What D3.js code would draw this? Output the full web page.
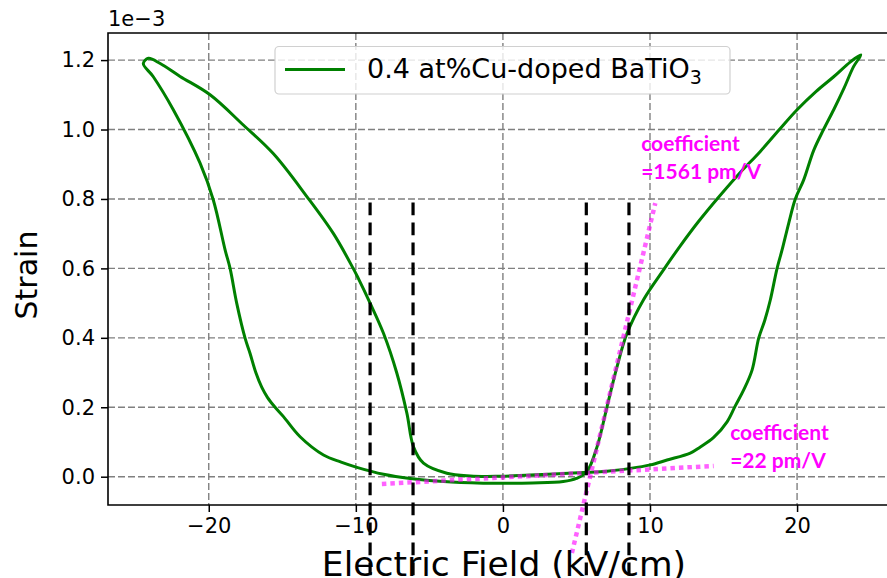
<!DOCTYPE html>
<html>
<head>
<meta charset="utf-8">
<script src="https://cdn.jsdelivr.net/npm/d3@7"></script>
<style>
  body { margin: 0; background: #fff; }
  svg { display: block; font-family: "DejaVu Sans", sans-serif; }
</style>
</head>
<body>
<svg id="chart" width="887" height="578"></svg>
<script>
// strain loop (units of 1e-3) vs electric field (kV/cm), in measuring order
var loopE = [0.0, 2.0, 4.1, 5.0, 5.7, 6.4, 7.07, 7.76, 8.44, 9.56, 10.92, 12.06, 13.3, 14.56, 16.0, 17.5, 18.8, 20.0, 21.3, 22.49, 23.63, 24.33,
  23.84, 23.2, 22.49, 21.8, 21.13, 20.45, 19.88, 19.43, 18.98, 18.64, 18.18, 17.8, 17.39, 16.94, 16.37, 15.8, 15.24, 14.33, 13.4, 12.74, 11.16, 10.02, 8.66, 6.62, 5.48, 1.86, -0.5, -2.22, -3.81, -5.4, -6.08, -6.53, -7.21, -8.12, -9.03, -9.84, -10.18, -11.52, -13.33, -15.6, -17.65, -19.91, -21.95, -23.3, -24.1, -24.45,
  -23.77, -22.41, -20.59, -19.69, -18.88, -18.55, -18.1, -17.53, -17.19, -16.8, -16.4, -16.0, -15.49, -14.92, -13.79, -12.2, -11.0, -9.93, -8.12, -6.31, -3.5, -0.41];
var loopS = [-0.019, -0.018, -0.014, -0.005, 0.014, 0.086, 0.20, 0.317, 0.413, 0.51, 0.596, 0.665, 0.735, 0.80, 0.87, 0.937, 1.0, 1.057, 1.11, 1.152, 1.195, 1.215,
  1.181, 1.12, 1.057, 1.0, 0.94, 0.855, 0.80, 0.73, 0.653, 0.60, 0.509, 0.45, 0.399, 0.307, 0.25, 0.204, 0.158, 0.113, 0.085, 0.068, 0.048, 0.034, 0.024, 0.014, 0.012, 0.005, 0.001, 0.002, 0.010, 0.039, 0.086, 0.183, 0.298, 0.413, 0.50, 0.572, 0.60, 0.70, 0.807, 0.93, 1.013, 1.10, 1.153, 1.19, 1.205, 1.19,
  1.152, 1.057, 0.903, 0.797, 0.652, 0.60, 0.50, 0.399, 0.355, 0.30, 0.258, 0.228, 0.20, 0.173, 0.115, 0.0625, 0.042, 0.027, 0.007, -0.005, -0.015, -0.019];

// coercive-field markers
var markE = [-9.03, -6.11, 5.67, 8.57];
var markS = [0.79, -0.3];

// linear fits [E0, S0, E1, S1]
var fitSteep = [4.69, -0.22, 10.36, 0.788];
var fitFlat = [-8.23, -0.021, 14.33, 0.031];

var xTicks = [-20, -10, 0, 10, 20];
var yTicks = [0.0, 0.2, 0.4, 0.6, 0.8, 1.0, 1.2];

var seriesName = "0.4 at%Cu-doped BaTiO";
var seriesSub = "3";
var notes = [
  { lines: ["coefficient", "=1561 pm/V"], E: 9.4, S: 0.938 },
  { lines: ["coefficient", "=22 pm/V"], E: 15.45, S: 0.106 }
];

var svg = d3.select("#chart");
var padL = 108, padR = 889, padT = 33, padB = 505;

var x = d3.scaleLinear().domain([-26.85, 26.25]).range([padL, padR]);
var y = d3.scaleLinear().domain([-0.0815, 1.278]).range([padB, padT]);

// grid
var grid = svg.append("g").attr("class", "grid");
grid.selectAll("line.gx").data(xTicks).enter().append("line")
    .attr("x1", function (d) { return x(d); }).attr("x2", function (d) { return x(d); })
    .attr("y1", padT).attr("y2", padB);
grid.selectAll("line.gy").data(yTicks).enter().append("line")
    .attr("x1", padL).attr("x2", padR)
    .attr("y1", function (d) { return y(d); }).attr("y2", function (d) { return y(d); });
grid.selectAll("line")
    .attr("stroke", "#808080").attr("stroke-width", 1.4).attr("stroke-dasharray", "7,3");

// strain loop
var pts = loopE.map(function (e, i) { return [e, loopS[i]]; });
pts.push(pts[0]);
var line = d3.line()
    .x(function (d) { return x(d[0]); })
    .y(function (d) { return y(d[1]); })
    .curve(d3.curveCatmullRom.alpha(0.5));

svg.append("path")
    .datum(pts)
    .attr("d", line)
    .attr("fill", "none")
    .attr("stroke", "#008000")
    .attr("stroke-width", 3)
    .attr("stroke-linejoin", "round");

// fit lines
[fitSteep, fitFlat].forEach(function (f) {
    svg.append("line")
        .attr("x1", x(f[0])).attr("y1", y(f[1]))
        .attr("x2", x(f[2])).attr("y2", y(f[3]))
        .attr("stroke", "#ff00ff").attr("stroke-opacity", 0.62)
        .attr("stroke-width", 4.5).attr("stroke-dasharray", "4.5,4");
});

// vertical dashed markers (not clipped)
svg.append("g").selectAll("line").data(markE).enter().append("line")
    .attr("x1", function (d) { return x(d); }).attr("x2", function (d) { return x(d); })
    .attr("y1", y(markS[0])).attr("y2", y(markS[1]))
    .attr("stroke", "#000").attr("stroke-width", 3.2)
    .attr("stroke-dasharray", "12.7,7.3");

// axes
var xAxis = svg.append("g")
    .attr("transform", "translate(0," + padB + ")")
    .call(d3.axisBottom(x).tickValues(xTicks).tickSizeOuter(0).tickSize(7).tickPadding(6)
        .tickFormat(function (d) { return d < 0 ? "\u2212" + Math.abs(d) : d; }));
var yAxis = svg.append("g")
    .attr("transform", "translate(" + padL + ",0)")
    .call(d3.axisLeft(y).tickValues(yTicks).tickSizeOuter(0).tickSize(7).tickPadding(6)
        .tickFormat(d3.format(".1f")));
[xAxis, yAxis].forEach(function (a) {
    a.select(".domain").remove();
    a.selectAll(".tick line").attr("stroke", "#000").attr("stroke-width", 1.5);
    a.selectAll(".tick text").attr("fill", "#000")
        .style("font-family", "DejaVu Sans").style("font-size", "21px");
});
// spines
svg.append("path")
    .attr("d", "M" + padR + "," + padT + "H" + padL + "V" + padB + "H" + padR)
    .attr("fill", "none").attr("stroke", "#000").attr("stroke-width", 1.6);

// offset text
svg.append("text").attr("x", padL).attr("y", 26)
    .style("font-size", "21px").text("1e\u22123");

// axis titles
svg.append("text")
    .attr("x", x(0) + 1).attr("y", 576)
    .attr("text-anchor", "middle")
    .style("font-size", "34.5px")
    .text("Electric Field (kV/cm)");
svg.append("text")
    .attr("transform", "translate(37,275) rotate(-90)")
    .attr("text-anchor", "middle")
    .style("font-size", "30px")
    .text("Strain");

// legend
var lg = svg.append("g");
lg.append("rect")
    .attr("x", 275).attr("y", 46.5).attr("width", 455).attr("height", 47.5)
    .attr("rx", 4).attr("fill", "#fff").attr("fill-opacity", 0.8)
    .attr("stroke", "#d0d0d0").attr("stroke-width", 1.2);
lg.append("line").attr("x1", 285).attr("x2", 345).attr("y1", 69.5).attr("y2", 69.5)
    .attr("stroke", "#008000").attr("stroke-width", 3);
var lt = lg.append("text").attr("x", 367).attr("y", 78).style("font-size", "27px");
lt.append("tspan").text(seriesName);
lt.append("tspan").attr("dy", 6).style("font-size", "19px").text(seriesSub);

// coefficient notes
notes.forEach(function (n) {
    var t = svg.append("text")
        .attr("x", x(n.E)).attr("y", y(n.S))
        .attr("fill", "#ff00ff")
        .style("font-family", "Lato, sans-serif")
        .style("font-weight", "bold")
        .style("font-size", "21px");
    n.lines.forEach(function (s, i) {
        t.append("tspan").attr("x", x(n.E)).attr("dy", i === 0 ? 0 : 28).text(s);
    });
});
</script>
</body>
</html>
